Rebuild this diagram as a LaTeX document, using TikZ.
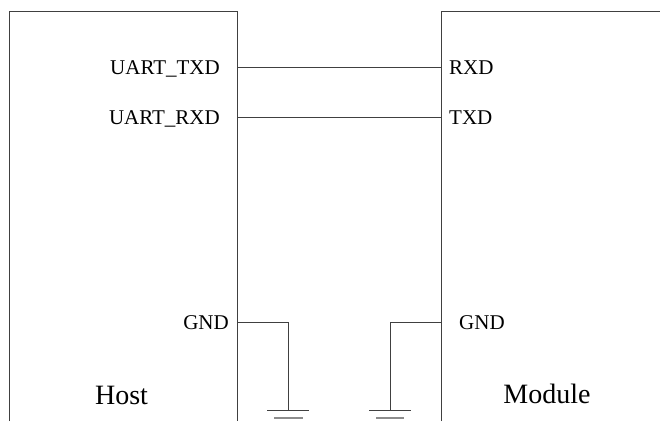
\documentclass[tikz,border=0pt]{standalone}
\usepackage{fontspec}
\setmainfont{Liberation Serif}
\begin{document}
\begin{tikzpicture}[x=1pt,y=-1pt,
  wire/.style={draw=black!75,line width=0.9pt},
  pinlbl/.style={inner sep=0pt,font=\fontsize{21}{25}\selectfont},
  boxlbl/.style={inner sep=0pt,font=\fontsize{28}{32}\selectfont},
  gbar/.style={draw=black!75,line width=0.9pt},
  gbarb/.style={draw=black!45,line width=1.6pt}]
\useasboundingbox (0,0) rectangle (660,421);
% boxes
\coordinate (hbl) at (9,421);
\coordinate (htl) at (9,11);
\coordinate (htr) at (237,11);
\coordinate (hbr) at (237,421);
\draw[wire] (hbl) -- (htl) -- (htr) -- (hbr);
\coordinate (mbl) at (441,421);
\coordinate (mtl) at (441,11);
\coordinate (mtr) at (660,11);
\draw[wire] (mbl) -- (mtl) -- (mtr);
% pins
\coordinate (hTX) at (237,67.5);
\coordinate (mRX) at (441,67.5);
\coordinate (hRX) at (237,117.5);
\coordinate (mTX) at (441,117.5);
\coordinate (hG) at (237,322.5);
\coordinate (mG) at (441,322.5);
\draw[wire] (hTX) -- (mRX);
\draw[wire] (hRX) -- (mTX);
% grounds
\coordinate (g1) at (288,410.5);
\coordinate (g2) at (390,410.5);
\draw[wire] (hG) -| (g1);
\draw[wire] (mG) -| (g2);
\draw[gbar] (267,410.5) -- (309,410.5);
\draw[gbarb] (274,418) -- (303,418);
\draw[gbar] (369,410.5) -- (411,410.5);
\draw[gbarb] (376,418) -- (404,418);
% labels
\node[pinlbl,anchor=base east] (lut) at (220,74.5) {UART\_TXD};
\node[pinlbl,anchor=base east] (lur) at (220,124.5) {UART\_RXD};
\node[pinlbl,anchor=base east] (lhg) at (229,329.5) {GND};
\node[pinlbl,anchor=base west] (lmr) at (449,74.5) {RXD};
\node[pinlbl,anchor=base west] (lmt) at (449,124.5) {TXD};
\node[pinlbl,anchor=base west] (lmg) at (459,329.5) {GND};
\node[boxlbl,anchor=base] (host) at (121.5,404) {Host};
\node[boxlbl,anchor=base] (mod) at (547,403.5) {Module};
\end{tikzpicture}
\end{document}
